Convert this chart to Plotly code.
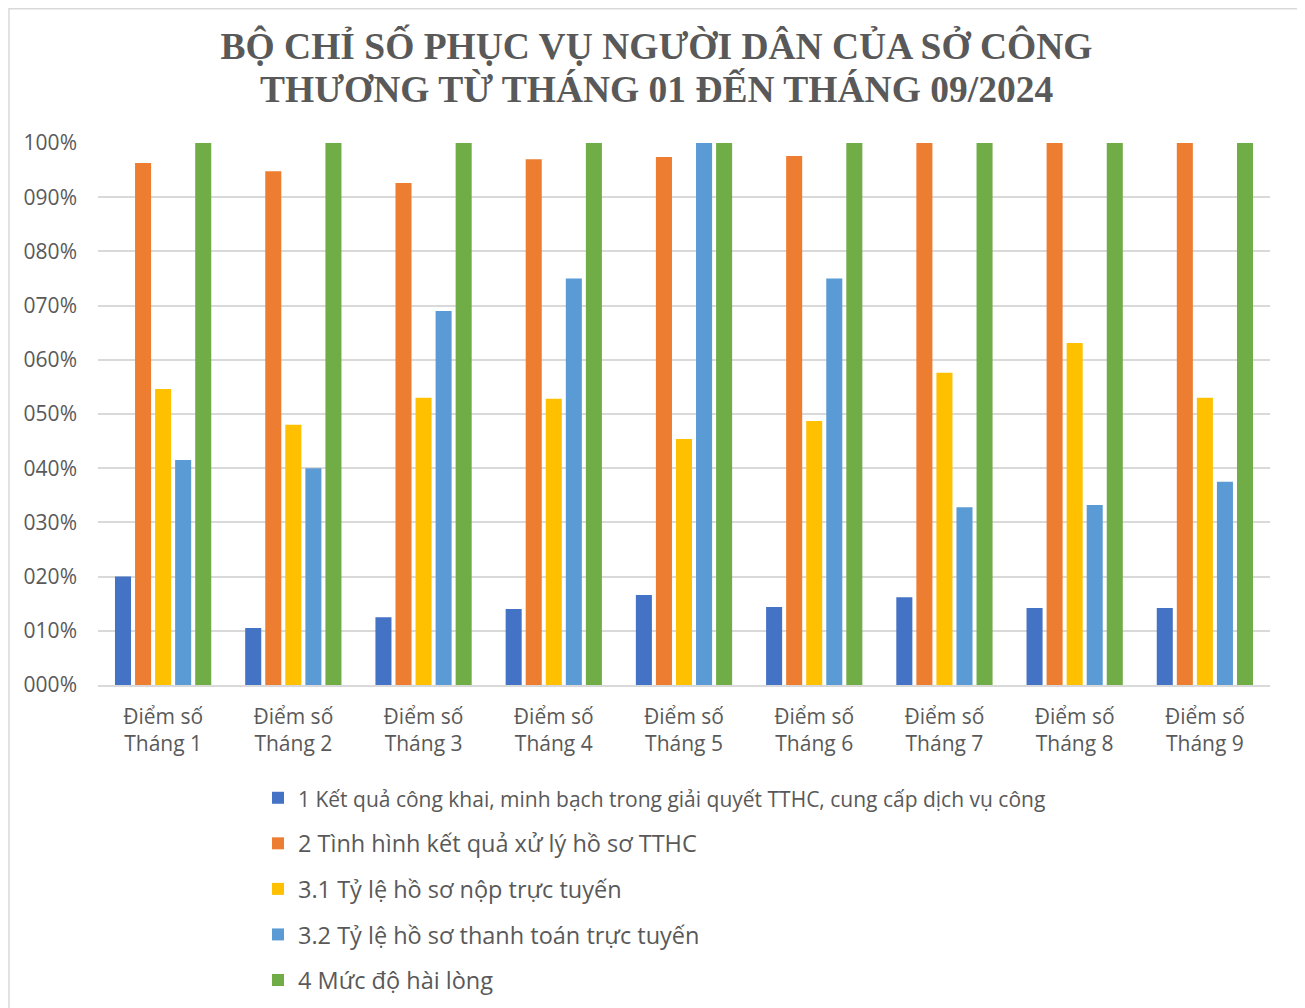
import plotly.graph_objects as go

categories = ["Điểm số<br>Tháng 1", "Điểm số<br>Tháng 2", "Điểm số<br>Tháng 3",
              "Điểm số<br>Tháng 4", "Điểm số<br>Tháng 5", "Điểm số<br>Tháng 6",
              "Điểm số<br>Tháng 7", "Điểm số<br>Tháng 8", "Điểm số<br>Tháng 9"]

title_line1 = "BỘ CHỈ SỐ PHỤC VỤ NGƯỜI DÂN CỦA SỞ CÔNG"
title_line2 = "THƯƠNG TỪ THÁNG 01 ĐẾN THÁNG 09/2024"

s1_name = "1 Kết quả công khai, minh bạch trong giải quyết TTHC, cung cấp dịch vụ công"
s2_name = "2 Tình hình kết quả xử lý hồ sơ TTHC"
s31_name = "3.1 Tỷ lệ hồ sơ nộp trực tuyến"
s32_name = "3.2 Tỷ lệ hồ sơ thanh toán trực tuyến"
s4_name = "4 Mức độ hài lòng"

s1 = [0.200, 0.105, 0.125, 0.140, 0.166, 0.144, 0.162, 0.142, 0.142]
s2 = [0.963, 0.948, 0.926, 0.970, 0.974, 0.976, 1.000, 1.000, 1.000]
s31 = [0.546, 0.480, 0.530, 0.528, 0.454, 0.487, 0.576, 0.631, 0.530]
s32 = [0.415, 0.400, 0.690, 0.750, 1.000, 0.750, 0.328, 0.332, 0.375]
s4 = [1.0, 1.0, 1.0, 1.0, 1.0, 1.0, 1.0, 1.0, 1.0]

tick_vals = [0, 0.1, 0.2, 0.3, 0.4, 0.5, 0.6, 0.7, 0.8, 0.9, 1.0]
tick_text = ["000%", "010%", "020%", "030%", "040%", "050%", "060%", "070%", "080%", "090%", "100%"]

colors = ["#4472C4", "#ED7D31", "#FFC000", "#5B9BD5", "#70AD47"]
series = [(s1_name, s1), (s2_name, s2), (s31_name, s31), (s32_name, s32), (s4_name, s4)]

W, H = 1297, 1010
L, R, T, B = 90, 35, 135, 333
PW = W - L - R
PH = H - T - B

fig = go.Figure()
for i, (name, vals) in enumerate(series):
    label = name
    if i == 0:
        label = '<span style="font-size:21px">' + name + '</span>'
    fig.add_trace(go.Bar(
        x=categories, y=vals, name=label,
        marker=dict(color=colors[i], line=dict(width=0)),
        legendgroup="g%d" % i,
    ))

grey = "#595959"
title_font = dict(family="Liberation Serif", size=37.5, color=grey, weight="bold")
fig.update_layout(
    width=W, height=H,
    paper_bgcolor="white", plot_bgcolor="white",
    margin=dict(l=L, r=R, t=T, b=B),
    barmode="group", bargap=0.23, bargroupgap=0.2,
    title=dict(
        text=title_line1,
        x=0.5, xanchor="center", y=1 - 38 / H, yanchor="middle",
        font=title_font,
    ),
    font=dict(family="Open Sans", color=grey),
    showlegend=True,
    legend=dict(
        orientation="v", x=(250 - L) / PW, xanchor="left", y=(H - B - 768) / PH, yanchor="top",
        font=dict(size=23.5, color=grey, family="Open Sans"),
        tracegroupgap=12, bgcolor="rgba(0,0,0,0)",
    ),
)
fig.add_annotation(
    text=title_line2, xref="paper", yref="paper",
    x=(W / 2 - L) / PW, xanchor="center",
    y=(H - B - 81) / PH, yanchor="middle",
    showarrow=False, font=title_font,
)
fig.update_yaxes(
    range=[0, 1.0], tickvals=tick_vals, ticktext=tick_text,
    showgrid=True, gridcolor="#D9D9D9", gridwidth=1.5,
    zeroline=False, showline=False, ticks="",
    tickfont=dict(size=21, color=grey, family="Open Sans"), ticklabelstandoff=20,
)
fig.update_xaxes(
    showline=True, linecolor="#D9D9D9", linewidth=1.5, ticks="",
    tickfont=dict(size=21, color=grey, family="Open Sans"), ticklabelstandoff=12,
)
# outer chart border
fig.add_shape(type="rect", xref="paper", yref="paper",
              x0=(1 - L) / PW, x1=(1291 - L) / PW,
              y0=(H - B - 1012) / PH, y1=(H - B - 0.75) / PH,
              line=dict(color="#D9D9D9", width=1.5), fillcolor="rgba(0,0,0,0)", layer="below")

fig.write_html("out.html")
